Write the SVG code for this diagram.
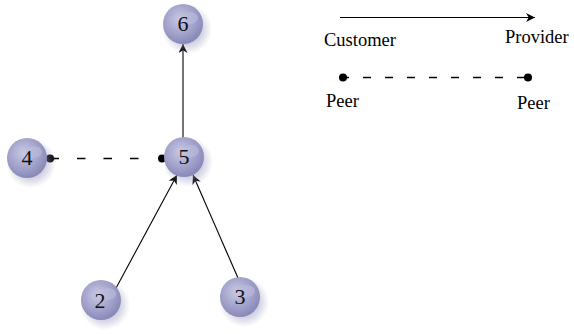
<svg xmlns="http://www.w3.org/2000/svg" width="574" height="334" viewBox="0 0 574 334">
<style>
text{font-family:'Liberation Serif','Times New Roman',Times,serif}
.lbl{font-size:18.5px;fill:#000}
.num{font-size:22px;fill:#111;text-anchor:middle}
.edge{stroke:#000;stroke-width:1.1;fill:none}
.dash{stroke:#000;stroke-width:1.3;fill:none}
.ball{fill:url(#g)}
</style>
<defs>
<radialGradient id="g" cx="0.42" cy="0.38" r="0.65">
<stop offset="0" stop-color="#cacae4"/>
<stop offset="0.55" stop-color="#a4a4cc"/>
<stop offset="1" stop-color="#8686b6"/>
</radialGradient>
<radialGradient id="sh" cx="0.5" cy="0.5" r="0.5">
<stop offset="0.6" stop-color="#9a9ac0" stop-opacity="0.45"/>
<stop offset="1" stop-color="#9a9ac0" stop-opacity="0"/>
</radialGradient>
<marker id="ah" viewBox="0 0 10 10" refX="10" refY="5" markerWidth="9" markerHeight="9" markerUnits="userSpaceOnUse" orient="auto">
<path d="M0,0 L10,5 L0,10 L3,5 z" fill="#000"/>
</marker>
<symbol id="node" overflow="visible">
<circle cx="4" cy="5" r="25" fill="url(#sh)"/>
<circle cx="0" cy="0" r="20" class="ball"/>
<ellipse cx="7" cy="-6" rx="8" ry="6" fill="#bcbcde" opacity="0.6"/>
</symbol>
</defs>
<g id="connectors">
<line class="edge" x1="183" y1="140" x2="183" y2="44" marker-end="url(#ah)"/>
<line class="edge" x1="115" y1="290" x2="177" y2="175" marker-end="url(#ah)"/>
<line class="edge" x1="238" y1="278" x2="193" y2="175" marker-end="url(#ah)"/>
<line class="dash" x1="49" y1="158.5" x2="156" y2="158.5" stroke-dasharray="8.5,18" stroke-dashoffset="-1.5"/>
<line class="dash" x1="49" y1="158.5" x2="56" y2="158.5"/>
<circle cx="50" cy="158.5" r="4" fill="#000"/>
<circle cx="162" cy="158.5" r="4" fill="#000"/>
</g>
<g id="n6"><use href="#node" x="183" y="24"/><text class="num" x="183" y="31">6</text></g>
<g id="n5"><use href="#node" x="184" y="157"/><text class="num" x="184" y="164">5</text></g>
<g id="n4"><use href="#node" x="27" y="158"/><text class="num" x="27" y="165">4</text></g>
<g id="n2"><use href="#node" x="101" y="300"/><text class="num" x="100" y="308">2</text></g>
<g id="n3"><use href="#node" x="240" y="297"/><text class="num" x="240" y="304">3</text></g>
<g id="legend">
<line class="edge" x1="340" y1="17.5" x2="535" y2="17.5" marker-end="url(#ah)"/>
<text class="lbl" x="324" y="46">Customer</text>
<text class="lbl" x="505" y="43">Provider</text>
<line class="dash" x1="343" y1="77.5" x2="528" y2="77.5" stroke-dasharray="8,14" stroke-dashoffset="2"/>
<circle cx="343" cy="77.5" r="4" fill="#000"/>
<circle cx="528" cy="77.5" r="4" fill="#000"/>
<text class="lbl" x="326" y="107">Peer</text>
<text class="lbl" x="517" y="109">Peer</text>
</g>
</svg>
